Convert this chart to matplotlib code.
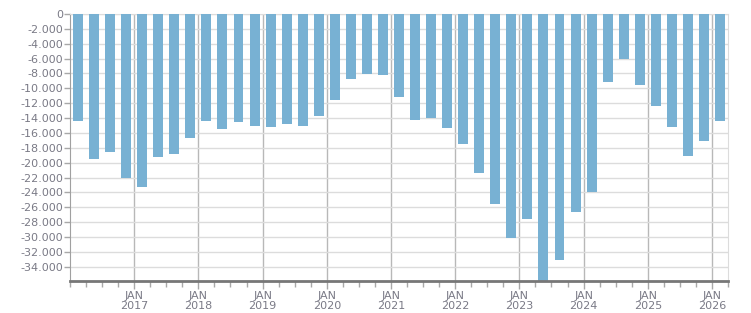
import pandas as pd
import matplotlib
matplotlib.use("Agg")
from matplotlib import pyplot as plt
from matplotlib.ticker import FuncFormatter, MultipleLocator

# quarterly values, 2016 Q1 .. 2026 Q1
quarters = pd.period_range("2016Q1", "2026Q1", freq="Q")
values = [-14400, -19500, -18500, -22000, -23250, -19200, -18850, -16650,
          -14400, -15450, -14500, -15050, -15150, -14750, -15050, -13700,
          -11550, -8700, -8050, -8200, -11150, -14250, -13950, -15300,
          -17450, -21350, -25500, -30100, -27550, -35900, -33050, -26600,
          -23950, -9100, -6000, -9500, -12350, -15200, -19100, -17050,
          -14400]
label_years = list(range(2017, 2027))

bar_col = "#78b1d3"
txt_col = "#7a7a86"

x = [q.year + (q.quarter - 0.5) / 4 for q in quarters]

fig = plt.figure(figsize=(7.51, 3.13), dpi=100)
ax = fig.add_axes([70 / 751, 1 - 281 / 313, 658 / 751, 267 / 313])

ax.bar(x, values, width=0.155, color=bar_col, zorder=3)

ax.set_xlim(2016, 2026.25)
ax.set_ylim(-35900, 0)

ax.yaxis.set_major_locator(MultipleLocator(2000))
ax.yaxis.set_major_formatter(FuncFormatter(lambda v, p: f"{int(v):,}".replace(",", ".")))
ax.grid(axis="y", color="#dcdcdc", lw=1, zorder=0)

ax.set_xticks(label_years)
ax.set_xticklabels([f"JAN\n{y}" for y in label_years], linespacing=1.05)
ax.set_xticks([2016 + i / 4 for i in range(42)], minor=True)
ax.grid(axis="x", which="major", color="#b8b8b8", lw=1, zorder=1)

ax.tick_params(axis="both", labelsize=8, labelcolor=txt_col, colors="#a8a8a8")
ax.tick_params(axis="x", which="major", length=6, width=1, pad=1)
ax.tick_params(axis="x", which="minor", length=4, width=1, color="#a8a8a8")
ax.tick_params(axis="y", length=4, width=1, pad=1)

for s in ["top", "right"]:
    ax.spines[s].set_color("#dcdcdc")
ax.spines["left"].set_color("#a0a0a0")
ax.spines["bottom"].set_color("#777777")
ax.spines["bottom"].set_linewidth(2)
ax.spines["bottom"].set_zorder(4)

fig.savefig("out.png", dpi=100)
